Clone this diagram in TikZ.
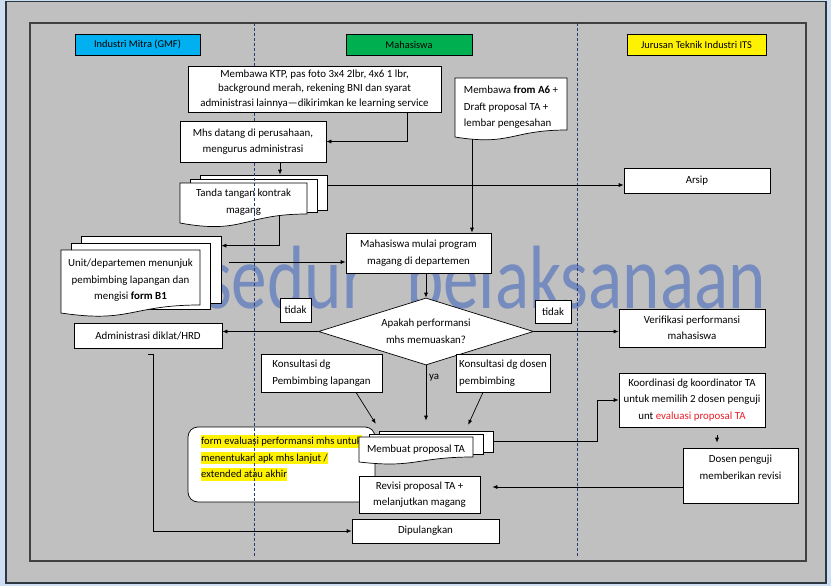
\documentclass[tikz,border=0pt]{standalone}
\usepackage{fontspec}
\usepackage{graphicx}
\setmainfont{Carlito}
\usetikzlibrary{shapes.geometric,arrows.meta,calc}
\definecolor{bgblue}{RGB}{205,222,242}
\definecolor{panel}{RGB}{192,192,192}
\definecolor{framec}{RGB}{45,55,65}
\definecolor{lanec}{RGB}{40,60,110}
\definecolor{wmc}{RGB}{118,140,190}
\definecolor{hblue}{RGB}{0,176,240}
\definecolor{hgreen}{RGB}{0,176,80}
\definecolor{hred}{RGB}{235,30,40}
\newcommand\docwave[5]{%
  \filldraw[docline] (#1,#2) -- (#3,#2) -- (#3,#4-#5) .. controls ({(#1+#3)/2},#4-#5) and ({(#1+#3)/2},#4+1.3*#5) .. (#1,#4) -- cycle;}
\newcommand\hlt[1]{{\setlength\fboxsep{0pt}\colorbox{yellow}{\rule[-3pt]{0pt}{12.5pt}#1}}}
\begin{document}
\begin{tikzpicture}[x=1pt,y=-1pt,
 every node/.style={font=\fontsize{10.9}{16.5}\selectfont, inner sep=0pt},
 box/.style={draw=black, fill=white, line width=0.7pt, align=center},
 copybox/.style={draw=black, fill=white, line width=0.7pt},
 docline/.style={draw=black, fill=white, line width=0.7pt},
 textonly/.style={align=center},
 wmark/.style={text=wmc, font=\fontsize{90}{90}\selectfont},
 hdr/.style={draw=black, line width=0.7pt, minimum height=21pt, font=\fontsize{10.4}{12}\selectfont},
 arr/.style={draw=black, line width=0.7pt, -{Latex[length=5pt,width=4pt]}},
 lanel/.style={draw=lanec, line width=0.9pt, dash pattern=on 3pt off 2pt}]
\useasboundingbox (0,0) rectangle (831,586);
% frame
\fill[bgblue] (0,0) rectangle (831,586);
\filldraw[fill=panel, draw=framec, line width=1.5pt] (6,1.5) rectangle (826,583);
\draw[line width=1.2pt, draw=black!75] (30,23) rectangle (806,561);
% watermark
\node[wmark, anchor=base east] (wm1) at (367,308) {\scalebox{0.79}[1]{Prosedur}};
\node[wmark, anchor=base west] (wm2) at (406,308) {\scalebox{0.79}[1]{pelaksanaan}};
% headers
\node[hdr, fill=hblue, minimum width=125pt] (h1) at (137.5,44.5) {Industri Mitra (GMF)};
\node[hdr, fill=hgreen, minimum width=126pt] (h2) at (409,44.5) {Mahasiswa};
\node[hdr, fill=yellow, minimum width=139pt] (h3) at (696.5,44.5) {Jurusan Teknik Industri ITS};
% Tanda tangan (multi document)
\node[copybox, minimum width=127pt, minimum height=35pt] (tandaC2) at (263.5,192.5) {};
\node[copybox, minimum width=127pt, minimum height=33pt] (tandaC1) at (253.5,195.5) {};
\docwave{180}{183}{307}{223}{9}
\node[textonly, minimum width=127pt, minimum height=40pt] (tanda) at (243.5,202) {Tanda tangan kontrak\\magang};
% form evaluasi
\node[box, rounded corners=10pt, minimum width=187pt, minimum height=75pt, align=left, font=\fontsize{10.6}{16.5}\selectfont] (form) at (281.5,464.5)
 {\hlt{form evaluasi performansi mhs untuk}\\\hlt{menentukan apk mhs lanjut /}\\\hlt{extended atau akhir}\\\mbox{}};
% Membuat proposal (multi document)
\node[copybox, minimum width=114pt, minimum height=21pt] (membC2) at (436,441.5) {};
\node[copybox, minimum width=114pt, minimum height=20pt] (membC1) at (426,444) {};
\docwave{359}{437}{473}{462}{5}
\node[textonly, minimum width=114pt, minimum height=25pt] (memb) at (416,449.5) {Membuat proposal TA};
% lanes
\coordinate (l1t) at (254,23); \coordinate (l1b) at (254,556);
\coordinate (l2t) at (577,23); \coordinate (l2b) at (577,556);
\draw[lanel] (l1t) -- (l1b);
\draw[lanel] (l2t) -- (l2b);
% boxes
\node[box, minimum width=253pt, minimum height=46pt, font=\fontsize{10.9}{14.5}\selectfont] (ktp) at (314.5,89)
 {Membawa KTP, pas foto 3x4 2lbr, 4x6 1 lbr,\\background merah, rekening BNI dan syarat\\administrasi lainnya—dikirimkan ke learning service};
\node[box, minimum width=146pt, minimum height=41pt] (mhs) at (253,141.5) {Mhs datang di perusahaan,\\mengurus administrasi};
\docwave{455}{78}{567}{137}{7}
\node[textonly, align=left, minimum width=112pt, minimum height=59pt] (a6) at (511,107.5) {Membawa \textbf{from A6} +\\Draft proposal TA +\\lembar pengesahan};
% Unit (multi document)
\node[copybox, minimum width=140pt, minimum height=67pt] (unitC2) at (151,269.5) {};
\node[copybox, minimum width=139pt, minimum height=66pt] (unitC1) at (140.5,276) {};
\docwave{61}{250}{200}{313}{8}
\node[textonly, minimum width=139pt, minimum height=63pt] (unit) at (130.5,280.5) {Unit/departemen menunjuk\\pembimbing lapangan dan\\mengisi \textbf{form B1}};
\node[box, minimum width=145pt, minimum height=40pt] (mulai) at (418.5,253) {Mahasiswa mulai program\\magang di departemen};
\node[box, minimum width=146pt, minimum height=25pt] (arsip) at (697,180.5) {Arsip};
\node[box, minimum width=31pt, minimum height=24pt] (tidakL) at (295.5,310) {tidak};
\node[box, minimum width=36pt, minimum height=23pt] (tidakR) at (553,311.5) {tidak};
\node[box, diamond, aspect=3.2, minimum width=215pt, minimum height=67pt] (dia) at (426,331.5) {Apakah performansi\\mhs memuaskan?};
\node[box, minimum width=148pt, minimum height=25pt] (admin) at (148,335.5) {Administrasi diklat/HRD};
\node[box, minimum width=146pt, minimum height=38pt] (verif) at (692,328) {Verifikasi performansi\\mahasiswa};
\node[box, align=left, minimum width=121pt, minimum height=38pt] (konsL) at (321.5,373) {Konsultasi dg\\Pembimbing lapangan};
\node[box, align=left, minimum width=94pt, minimum height=38pt] (konsR) at (503,373) {Konsultasi dg dosen\\pembimbing};
\node[textonly] (ya) at (434,378) {ya};
\node[box, minimum width=146pt, minimum height=54pt] (koord) at (692,400) {Koordinasi dg koordinator TA\\untuk memilih 2 dosen penguji\\unt \textcolor{hred}{evaluasi proposal TA}};
\node[box, minimum width=115pt, minimum height=55pt] (dosen) at (740.5,475.5) {Dosen penguji\\memberikan revisi\\\mbox{}};
\node[box, minimum width=121pt, minimum height=37pt] (revisi) at (419.5,494.5) {Revisi proposal TA +\\melanjutkan magang};
\node[box, minimum width=147pt, minimum height=24pt] (dip) at (425.5,531) {Dipulangkan};
% connectors
\draw[arr] ($(ktp.south)+(92.5,0)$) |- (mhs.east);
\draw[arr] ($(mhs.south)+(27,0)$) coordinate (mo) -- (mo |- tandaC2.north);
\draw[arr] ($(arsip.west -| tandaC2.east)+(0,4.5)$) -- ($(arsip.west)+(0,4.5)$);
\draw[arr] ($(tanda.south)+(35.5,-6)$) |- ($(unitC2.north east)+(0,10)$);
\draw[arr] ($(mulai.west -| unitC2.east)+(8,9)$) -- ($(mulai.west)+(0,9)$);
\draw[arr] ($(a6.south)+(-39,2)$) coordinate (ao) -- (ao |- mulai.north);
\draw[arr] (dia.north |- mulai.south) -- (dia.north);
\draw[arr] (dia.west) -- (dia.west -| admin.east);
\draw[arr] (dia.east) -- (dia.east -| verif.west);
\draw[arr, shorten >=10pt] (dia.south) -- (dia.south |- membC2.north);
\draw[arr] ($(konsL.south)+(34.5,0)$) -- ($(memb.north west)+(17,-13)$);
\draw[arr] ($(konsR.south)+(-20,0)$) -- ($(memb.north east)+(-5,-12)$);
\draw[arr] (membC2.east) -- ($(membC2.east -| koord.west)+(-21,0)$) |- (koord.west);
\draw[arr, shorten <=8pt, shorten >=5pt] ($(koord.south)+(25,0)$) -- ($(koord.south |- dosen.north)+(25,0)$);
\draw[arr, shorten >=12pt] ($(dosen.west)+(0,11.5)$) -- ($(dosen.west -| revisi.east)+(0,11.5)$);
\draw[arr] ($(admin.south)+(0,6)$) -- ++(5,0) |- (dip.west);
\end{tikzpicture}
\end{document}
